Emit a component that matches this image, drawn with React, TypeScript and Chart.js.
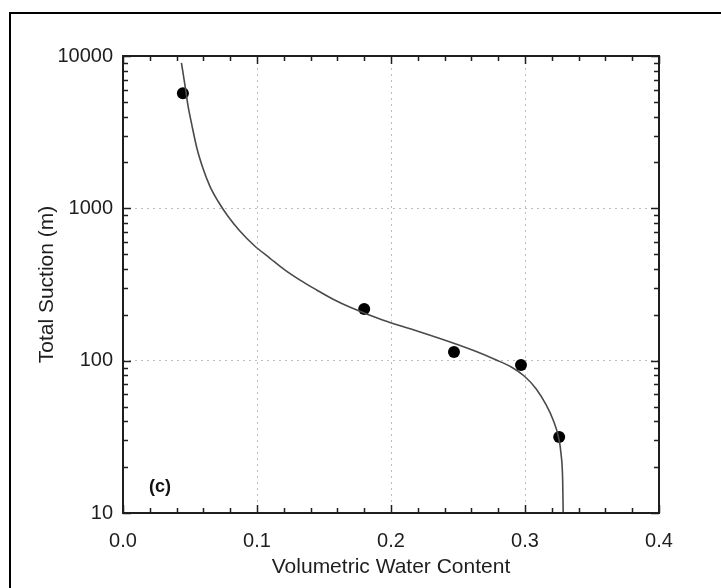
import React, { useEffect, useRef } from "react";
import { Chart, registerables } from "chart.js";

Chart.register(...registerables);

// Measured points (volumetric water content, total suction in m)
const pointTheta = [0.0447, 0.18, 0.247, 0.297, 0.3255];
const pointSuction = [5700, 218, 114, 93.7, 31.5];

// Fitted curve
const curveTheta = [
  0.0436, 0.0462, 0.0484, 0.0514, 0.0551, 0.0596, 0.0648, 0.0708, 0.0782, 0.0872,
  0.0983, 0.1095, 0.1207, 0.1318, 0.1445, 0.1579, 0.1691, 0.1937, 0.219, 0.2436,
  0.2622, 0.2786, 0.2898, 0.2994, 0.3084, 0.3158, 0.321, 0.3248, 0.327, 0.3281,
  0.3285,
];
const curveSuction = [
  9000, 6460, 4770, 3520, 2490, 1840, 1400, 1117, 891, 710,
  566, 472, 394, 339, 291, 250, 225, 185, 157, 133,
  116, 101, 90.9, 79.3, 65.2, 51.2, 40.8, 32.0, 24.0, 16.5,
  10,
];

const yTickValues = [10, 100, 1000, 10000];
const yMinorMultipliers = [1, 2, 3, 4, 5, 6, 7, 8, 9];
const xMin = 0;
const xMax = 0.4;
const xMajorStep = 0.1;
const xMinorStep = 0.02;
const panelLabel = "(c)";
const panelLabelPos = { x: 0.0276, y: 14.8 };

const FONT = "'Liberation Sans', Arial, Helvetica, sans-serif";
const INK = "#1e1e1e";

const framePlugin = {
  id: "framePlugin",
  beforeDraw(chart: any) {
    const ctx = chart.ctx;
    ctx.save();
    ctx.fillStyle = "#000";
    ctx.fillRect(9, 12, 2, chart.height - 12);
    ctx.fillRect(9, 12, chart.width - 9, 2);
    ctx.restore();
  },
  afterDatasetsDraw(chart: any) {
    const ctx = chart.ctx;
    const xs = chart.scales.x;
    const ys = chart.scales.y;
    const { left, right, top, bottom } = chart.chartArea;
    ctx.save();
    ctx.strokeStyle = INK;
    ctx.lineWidth = 1.5;
    // x ticks (bottom and top), inward
    const nX = Math.round((xMax - xMin) / xMinorStep);
    const perMajor = Math.round(xMajorStep / xMinorStep);
    for (let i = 0; i <= nX; i++) {
      const v = xMin + i * xMinorStep;
      const px = Math.round(xs.getPixelForValue(v)) + 0.5;
      const len = i % perMajor === 0 ? 8 : 5;
      ctx.beginPath();
      ctx.moveTo(px, bottom);
      ctx.lineTo(px, bottom - len);
      ctx.moveTo(px, top);
      ctx.lineTo(px, top + len);
      ctx.stroke();
    }
    // y ticks (left and right), inward
    for (let d = 0; d < yTickValues.length; d++) {
      const dec = yTickValues[d];
      const mults = d === yTickValues.length - 1 ? [1] : yMinorMultipliers;
      for (const m of mults) {
        const v = dec * m;
        const py = Math.round(ys.getPixelForValue(v)) + 0.5;
        const len = m === 1 ? 8 : 5;
        ctx.beginPath();
        ctx.moveTo(left, py);
        ctx.lineTo(left + len, py);
        ctx.moveTo(right, py);
        ctx.lineTo(right - len, py);
        ctx.stroke();
      }
    }
    // plot frame
    ctx.lineWidth = 2;
    ctx.strokeRect(left, top, right - left, bottom - top);
    // panel label
    ctx.fillStyle = "#111";
    ctx.font = `bold 18px ${FONT}`;
    ctx.textAlign = "center";
    ctx.textBaseline = "middle";
    ctx.fillText(
      panelLabel,
      xs.getPixelForValue(panelLabelPos.x),
      ys.getPixelForValue(panelLabelPos.y)
    );
    ctx.restore();
  },
};

export default function App() {
  const canvasRef = useRef<HTMLCanvasElement | null>(null);

  useEffect(() => {
    const canvas = canvasRef.current;
    if (!canvas) return;
    const curveData = curveTheta.map((x, i) => ({ x, y: curveSuction[i] }));
    const pointData = pointTheta.map((x, i) => ({ x, y: pointSuction[i] }));
    const isInner = (v: number, lo: number, hi: number) =>
      v > lo + 1e-9 && v < hi - 1e-9;

    const chart = new Chart(canvas, {
      type: "scatter",
      data: {
        datasets: [
          {
            label: "fit",
            data: curveData,
            showLine: true,
            borderColor: "#4a4a4a",
            borderWidth: 1.6,
            pointRadius: 0,
            cubicInterpolationMode: "monotone",
          } as any,
          {
            label: "measured",
            data: pointData,
            showLine: false,
            pointRadius: 6,
            pointBackgroundColor: "#000",
            pointBorderColor: "#000",
            pointBorderWidth: 0,
          },
        ],
      },
      options: {
        responsive: false,
        animation: false,
        devicePixelRatio: 1,
        layout: { padding: { left: 0, top: 56, right: 62, bottom: 0 } },
        plugins: {
          legend: { display: false },
          tooltip: { enabled: false },
          title: { display: false },
        },
        scales: {
          x: {
            type: "linear",
            min: xMin,
            max: xMax,
            border: { display: false, dash: [2, 4] },
            afterFit(scale: any) {
              scale.height = 75;
            },
            grid: {
              drawTicks: false,
              lineWidth: 1,
              color: (ctx: any) =>
                ctx.tick && isInner(ctx.tick.value, xMin, xMax) ? "#bdbdbd" : "rgba(0,0,0,0)",
            },
            ticks: {
              stepSize: xMajorStep,
              padding: 16,
              color: INK,
              font: { family: FONT, size: 20 },
              maxRotation: 0,
              callback: (v: any) => Number(v).toFixed(1),
            },
            title: {
              display: true,
              text: "Volumetric Water Content",
              color: INK,
              font: { family: FONT, size: 21 },
              padding: { top: 0, bottom: 8 },
            },
          },
          y: {
            type: "logarithmic",
            min: yTickValues[0],
            max: yTickValues[yTickValues.length - 1],
            border: { display: false, dash: [2, 4] },
            afterBuildTicks(scale: any) {
              scale.ticks = yTickValues.map((v) => ({ value: v }));
            },
            afterFit(scale: any) {
              scale.width = 123;
            },
            grid: {
              drawTicks: false,
              lineWidth: 1,
              color: (ctx: any) =>
                ctx.tick && isInner(ctx.tick.value, yTickValues[0], yTickValues[yTickValues.length - 1])
                  ? "#bdbdbd"
                  : "rgba(0,0,0,0)",
            },
            ticks: {
              padding: 10,
              color: INK,
              font: { family: FONT, size: 20 },
              callback: (v: any) => String(v),
            },
            title: {
              display: true,
              text: "Total Suction (m)",
              color: INK,
              font: { family: FONT, size: 21 },
              padding: { top: 35, bottom: 0 },
            },
          },
        },
      } as any,
      plugins: [framePlugin],
    });

    return () => chart.destroy();
  }, []);

  return (
    <div style={{ position: "absolute", left: 0, top: 0, width: 721, height: 588, background: "#fff" }}>
      <canvas ref={canvasRef} width={721} height={588} style={{ display: "block", width: 721, height: 588 }} />
    </div>
  );
}
